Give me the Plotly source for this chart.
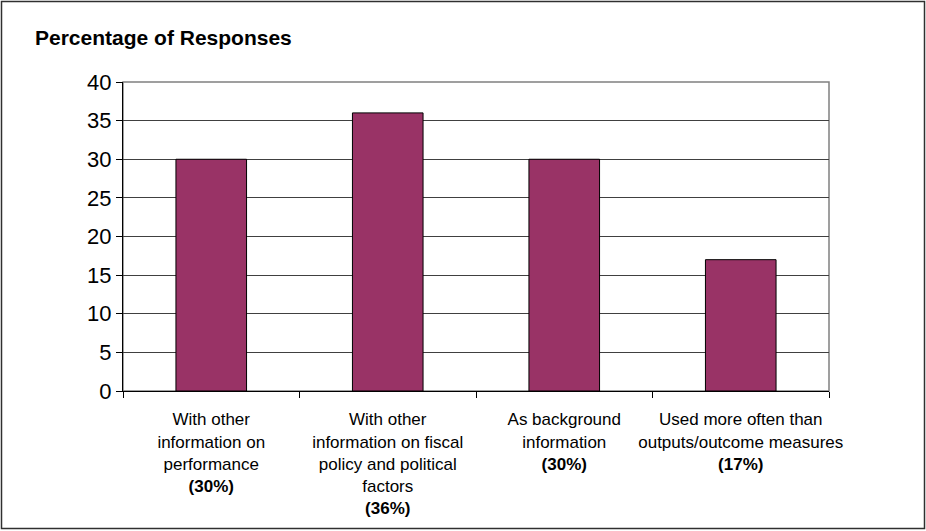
import plotly.graph_objects as go

categories = [
    "With other<br>information on<br>performance<br><b>(30%)</b>",
    "With other<br>information on fiscal<br>policy and political<br>factors<br><b>(36%)</b>",
    "As background<br>information<br><b>(30%)</b>",
    "Used more often than<br>outputs/outcome measures<br><b>(17%)</b>",
]
values = [30, 36, 30, 17]
y_ticks = [0, 5, 10, 15, 20, 25, 30, 35, 40]

FONT = "Arial, 'Liberation Sans', sans-serif"

fig = go.Figure()
fig.add_trace(go.Bar(
    x=categories, y=values, width=0.4,
    marker=dict(color="#993366", line=dict(color="#000000", width=1)),
))

L, R, T, B = 123, 97, 82, 140
W, H = 926, 531
pw, ph = W - L - R, H - T - B

fig.update_layout(
    width=W, height=H,
    margin=dict(l=L, r=R, t=T, b=B),
    paper_bgcolor="white", plot_bgcolor="white",
    showlegend=False,
    bargap=0.6,
    title=dict(text="<b>Percentage of Responses</b>", x=35 / W, xanchor="left",
               y=1 - 38 / H, yanchor="middle",
               font=dict(family=FONT, size=21, color="black")),
    xaxis=dict(type="category", tickson="boundaries", ticks="outside", ticklen=6,
               tickcolor="black", showline=True, linecolor="black", linewidth=1,
               showgrid=False, tickfont=dict(family=FONT, size=17, color="black"),
               tickangle=0, automargin=False, ticklabelstandoff=13),
    yaxis=dict(range=[0, 40], tickvals=y_ticks, ticks="outside", ticklen=6,
               tickcolor="black", showline=True, linecolor="black", linewidth=1,
               showgrid=True, gridcolor="#404040", gridwidth=1, zeroline=False,
               automargin=False,
               tickfont=dict(family=FONT, size=22, color="black")),
    font=dict(family=FONT, color="black"),
)

# plot area border (right side gray)
fig.add_shape(type="rect", xref="paper", yref="paper", x0=0, x1=1, y0=0, y1=1,
              line=dict(color="#808080", width=1.5), layer="below")
# outer chart border
fig.add_shape(type="rect", xref="paper", yref="paper",
              x0=(1.5 - L) / pw, x1=(924.5 - L) / pw,
              y0=-(528.5 - (H - B)) / ph, y1=(H - B - 1.5) / ph,
              line=dict(color="#303030", width=1.5))

fig.write_html("out.html")
